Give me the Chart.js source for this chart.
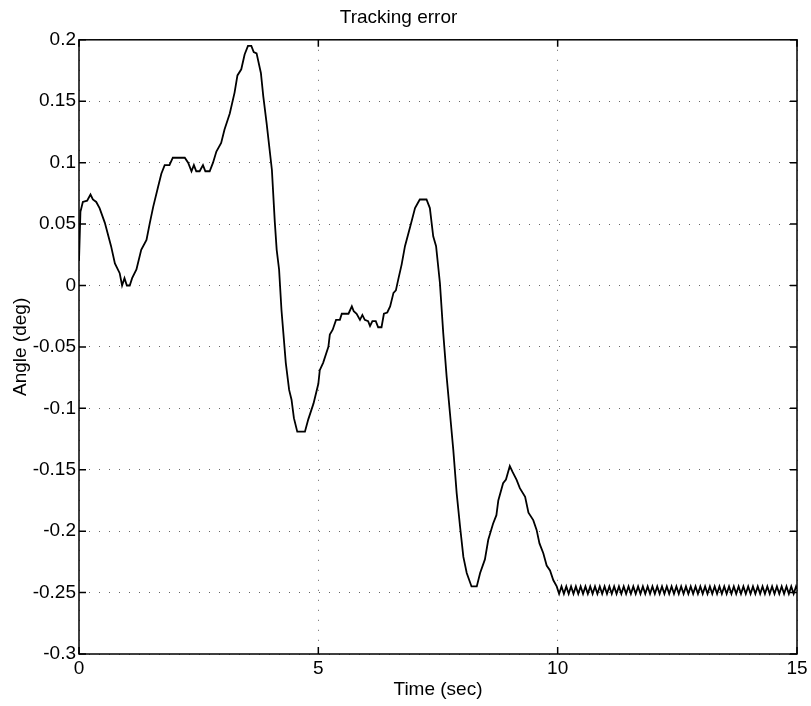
<!DOCTYPE html>
<html>
<head>
<meta charset="utf-8">
<script src="https://cdn.jsdelivr.net/npm/chart.js@4/dist/chart.umd.min.js"></script>
<style>
  html, body { margin: 0; padding: 0; background: #fff; }
  canvas { display: block; }
</style>
</head>
<body>
<canvas id="chart" width="811" height="706"></canvas>
<script>
// Tracking error (time in sec, angle in deg)
const timeSec = [
  0.00, 0.03, 0.08, 0.17, 0.24, 0.29, 0.36, 0.43, 0.54, 0.67,
  0.75, 0.85, 0.90, 0.95, 1.00, 1.06, 1.11, 1.20, 1.30, 1.41,
  1.48, 1.55, 1.65, 1.72, 1.79, 1.89, 1.96, 2.21, 2.28, 2.35,
  2.40, 2.45, 2.52, 2.59, 2.64, 2.73, 2.80, 2.87, 2.97, 3.04,
  3.15, 3.25, 3.31, 3.39, 3.46, 3.53, 3.60, 3.65, 3.71, 3.80,
  3.85, 3.92, 4.03, 4.09, 4.13, 4.18, 4.23, 4.27, 4.32, 4.39,
  4.44, 4.49, 4.56, 4.72, 4.79, 4.90, 5.00, 5.03, 5.10, 5.21,
  5.24, 5.30, 5.37, 5.45, 5.49, 5.63, 5.70, 5.74, 5.80, 5.87,
  5.92, 5.97, 6.04, 6.08, 6.13, 6.20, 6.25, 6.32, 6.37, 6.44,
  6.50, 6.57, 6.62, 6.67, 6.74, 6.81, 6.92, 7.02, 7.09, 7.12,
  7.26, 7.33, 7.40, 7.46, 7.54, 7.61, 7.68, 7.75, 7.82, 7.89,
  7.96, 8.03, 8.10, 8.20, 8.31, 8.38, 8.48, 8.55, 8.65, 8.72,
  8.76, 8.86, 8.92, 9.00, 9.06, 9.14, 9.21, 9.32, 9.39, 9.49,
  9.56, 9.62, 9.70, 9.77, 9.84, 9.91, 9.98, 10.03
];
const angleDeg = [
  0.020, 0.060, 0.068, 0.069, 0.074, 0.070, 0.068, 0.063, 0.051, 0.032,
  0.018, 0.010, 0.000, 0.006, 0.000, 0.000, 0.006, 0.013, 0.029, 0.037,
  0.051, 0.064, 0.080, 0.091, 0.098, 0.098, 0.104, 0.104, 0.100, 0.093,
  0.098, 0.093, 0.093, 0.098, 0.093, 0.093, 0.100, 0.109, 0.116, 0.127,
  0.140, 0.157, 0.171, 0.176, 0.188, 0.195, 0.195, 0.190, 0.189, 0.173,
  0.154, 0.132, 0.094, 0.052, 0.029, 0.013, -0.020, -0.039, -0.063, -0.085,
  -0.093, -0.108, -0.119, -0.119, -0.109, -0.096, -0.080, -0.069, -0.063, -0.050,
  -0.040, -0.036, -0.028, -0.028, -0.023, -0.023, -0.017, -0.021, -0.023, -0.028,
  -0.024, -0.028, -0.029, -0.033, -0.029, -0.029, -0.034, -0.034, -0.023, -0.022,
  -0.017, -0.006, -0.004, 0.005, 0.017, 0.032, 0.048, 0.063, 0.068, 0.070,
  0.070, 0.063, 0.040, 0.032, 0.002, -0.039, -0.074, -0.104, -0.134, -0.169,
  -0.196, -0.221, -0.234, -0.245, -0.245, -0.234, -0.223, -0.207, -0.194, -0.187,
  -0.175, -0.161, -0.158, -0.147, -0.152, -0.158, -0.165, -0.172, -0.185, -0.191,
  -0.199, -0.210, -0.218, -0.228, -0.232, -0.240, -0.245, -0.251
];

// steady-state ripple after t = 10 s
const rippleTime = [
  10.08, 10.13, 10.18, 10.23, 10.28, 10.33, 10.38, 10.43, 10.48, 10.53,
  10.58, 10.63, 10.68, 10.73, 10.78, 10.83, 10.88, 10.93, 10.98, 11.03,
  11.08, 11.13, 11.18, 11.23, 11.28, 11.33, 11.38, 11.43, 11.48, 11.53,
  11.58, 11.63, 11.68, 11.73, 11.78, 11.83, 11.88, 11.93, 11.98, 12.03,
  12.08, 12.13, 12.18, 12.23, 12.28, 12.33, 12.38, 12.43, 12.48, 12.53,
  12.58, 12.63, 12.68, 12.73, 12.78, 12.83, 12.88, 12.93, 12.98, 13.03,
  13.08, 13.13, 13.18, 13.23, 13.28, 13.33, 13.38, 13.43, 13.48, 13.53,
  13.58, 13.63, 13.68, 13.73, 13.78, 13.83, 13.88, 13.93, 13.98, 14.03,
  14.08, 14.13, 14.18, 14.23, 14.28, 14.33, 14.38, 14.43, 14.48, 14.53,
  14.58, 14.63, 14.68, 14.73, 14.78, 14.83, 14.88, 14.93, 14.98, 15.00
];
const rippleAngle = [
  -0.245, -0.251, -0.245, -0.251, -0.245, -0.251, -0.245, -0.251, -0.245, -0.251,
  -0.245, -0.251, -0.245, -0.251, -0.245, -0.251, -0.245, -0.251, -0.245, -0.251,
  -0.245, -0.251, -0.245, -0.251, -0.245, -0.251, -0.245, -0.251, -0.245, -0.251,
  -0.245, -0.251, -0.245, -0.251, -0.245, -0.251, -0.245, -0.251, -0.245, -0.251,
  -0.245, -0.251, -0.245, -0.251, -0.245, -0.251, -0.245, -0.251, -0.245, -0.251,
  -0.245, -0.251, -0.245, -0.251, -0.245, -0.251, -0.245, -0.251, -0.245, -0.251,
  -0.245, -0.251, -0.245, -0.251, -0.245, -0.251, -0.245, -0.251, -0.245, -0.251,
  -0.245, -0.251, -0.245, -0.251, -0.245, -0.251, -0.245, -0.251, -0.245, -0.251,
  -0.245, -0.251, -0.245, -0.251, -0.245, -0.251, -0.245, -0.251, -0.245, -0.251,
  -0.245, -0.251, -0.245, -0.251, -0.245, -0.251, -0.245, -0.251, -0.245, -0.247
];

const xTickValues = [0, 5, 10, 15];
const yTickValues = [0.2, 0.15, 0.1, 0.05, 0, -0.05, -0.1, -0.15, -0.2, -0.25, -0.3];
const yTickLabels = ['0.2', '0.15', '0.1', '0.05', '0', '-0.05', '-0.1', '-0.15', '-0.2', '-0.25', '-0.3'];

const points = timeSec.map((t, i) => ({ x: t, y: angleDeg[i] }))
  .concat(rippleTime.map((t, i) => ({ x: t, y: rippleAngle[i] })));

const FONT = 'Liberation Sans, Arial, Helvetica, sans-serif';

// matlab style box with inward tick marks
const boxTicks = {
  id: 'boxTicks',
  afterDatasetsDraw(chart) {
    const { ctx, chartArea: a, scales: { x, y } } = chart;
    ctx.save();
    ctx.strokeStyle = '#000';
    ctx.lineWidth = 1.5;
    ctx.strokeRect(a.left, a.top, a.right - a.left, a.bottom - a.top);
    ctx.beginPath();
    x.ticks.forEach(t => {
      const px = x.getPixelForValue(t.value);
      ctx.moveTo(px, a.bottom); ctx.lineTo(px, a.bottom - 7);
      ctx.moveTo(px, a.top); ctx.lineTo(px, a.top + 7);
    });
    y.ticks.forEach(t => {
      const py = y.getPixelForValue(t.value);
      ctx.moveTo(a.left, py); ctx.lineTo(a.left + 7, py);
      ctx.moveTo(a.right, py); ctx.lineTo(a.right - 7, py);
    });
    ctx.stroke();
    ctx.restore();
  }
};

new Chart(document.getElementById('chart'), {
  type: 'line',
  data: {
    datasets: [{
      data: points,
      borderColor: '#000',
      borderWidth: 1.8,
      pointRadius: 0,
      tension: 0,
      fill: false
    }]
  },
  options: {
    responsive: false,
    animation: false,
    devicePixelRatio: 1,
    layout: { padding: { top: 0, right: 14, bottom: 0, left: 0 } },
    plugins: {
      legend: { display: false },
      tooltip: { enabled: false },
      title: {
        display: true,
        text: 'Tracking error',
        color: '#000',
        font: { family: FONT, size: 19, weight: 'normal' },
        padding: { top: 6, bottom: 11 }
      }
    },
    scales: {
      x: {
        type: 'linear',
        min: 0,
        max: 15,
        afterBuildTicks: s => { s.ticks = xTickValues.map(v => ({ value: v })); },
        afterFit: s => { s.height = 52; },
        ticks: {
          color: '#000',
          padding: 3,
          maxRotation: 0,
          font: { family: FONT, size: 19 },
          callback: v => String(v)
        },
        grid: { color: 'rgba(0,0,0,0.6)', lineWidth: 1, drawTicks: false },
        border: { display: false, dash: [1, 9] },
        title: {
          display: true,
          text: 'Time (sec)',
          color: '#000',
          font: { family: FONT, size: 19 },
          padding: { top: 0, bottom: 5 }
        }
      },
      y: {
        type: 'linear',
        min: -0.3,
        max: 0.2,
        afterBuildTicks: s => { s.ticks = yTickValues.map(v => ({ value: v })); },
        afterFit: s => { s.width = 79; },
        ticks: {
          color: '#000',
          padding: 3,
          font: { family: FONT, size: 19 },
          callback: (v, i) => yTickLabels[i]
        },
        grid: { color: 'rgba(0,0,0,0.6)', lineWidth: 1, drawTicks: false },
        border: { display: false, dash: [1, 9] },
        title: {
          display: true,
          text: 'Angle (deg)',
          color: '#000',
          font: { family: FONT, size: 19 },
          padding: { top: 9, bottom: 0 }
        }
      }
    }
  },
  plugins: [boxTicks]
});
</script>
</body>
</html>
